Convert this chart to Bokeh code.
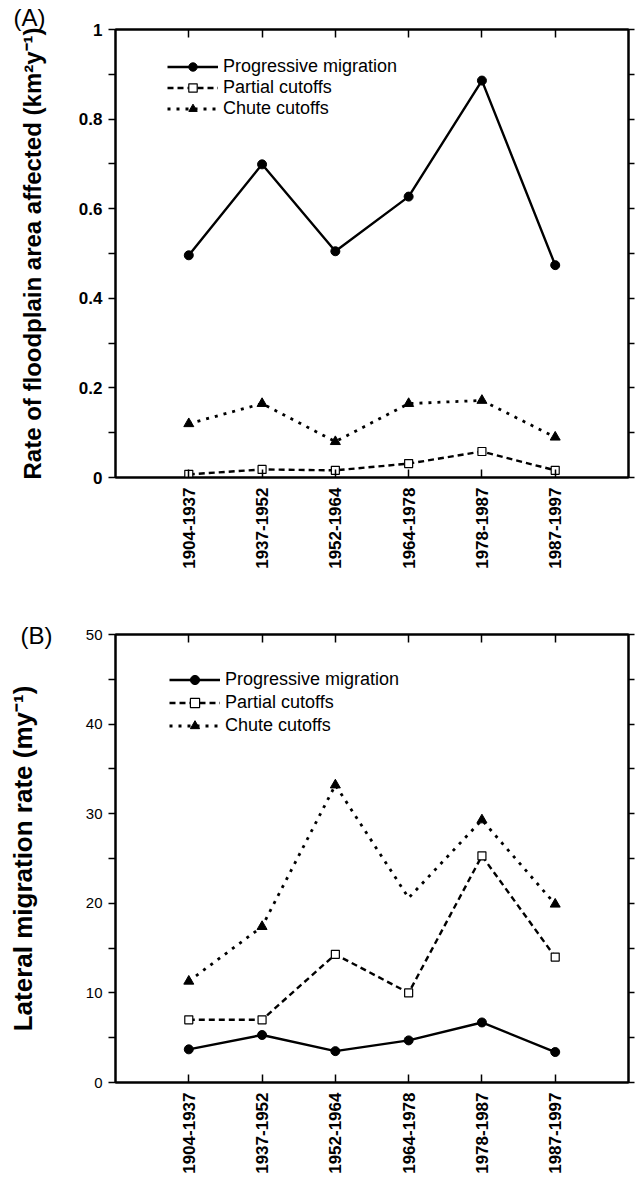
from bokeh.plotting import figure
from bokeh.models import (ColumnDataSource, FixedTicker, LinearAxis, Range1d, Legend,
                          LegendItem, CDSView, BooleanFilter)
from bokeh.layouts import column
from bokeh.embed import file_html
from bokeh.resources import INLINE

# ---------------- data ----------------
periods = ["1904-1937", "1937-1952", "1952-1964", "1964-1978", "1978-1987", "1987-1997"]
series_names = ["Progressive migration", "Partial cutoffs", "Chute cutoffs"]

# Panel A: rate of floodplain area affected (km2/y)
area_progressive = [0.496, 0.699, 0.505, 0.627, 0.886, 0.474]
area_partial = [0.007, 0.018, 0.016, 0.031, 0.058, 0.016]
area_chute = [0.120, 0.165, 0.080, 0.165, 0.172, 0.090]

# Panel B: lateral migration rate (m/y)
rate_progressive = [3.7, 5.3, 3.5, 4.7, 6.7, 3.4]
rate_partial = [7.0, 7.0, 14.3, 10.0, 25.3, 14.0]
rate_chute = [11.3, 17.4, 33.2, 20.6, 29.3, 19.9]
rate_chute_marker_shown = [True, True, True, False, True, True]

a_ticks = [0, 0.2, 0.4, 0.6, 0.8, 1.0]
a_tick_labels = ["0", "0.2", "0.4", "0.6", "0.8", "1"]
a_minor = [0.1, 0.3, 0.5, 0.7, 0.9]
b_ticks = [0, 10, 20, 30, 40, 50]
b_tick_labels = ["0", "10", "20", "30", "40", "50"]
b_minor = [5, 15, 25, 35, 45]

FONT = "Liberation Sans"


def make_panel(values, marker_masks, ymax, yticks, ylabels, yminor, ylabel,
               width, height, borders, ylabel_size, ylabel_standoff,
               ytick_size, ytick_style, legend_size,
               legend_loc, legend_row, legend_glyph_w, tag, tag_offset, tag_standoff):
    bl, br, bt, bb = borders
    xs = list(range(len(periods)))
    p = figure(width=width, height=height, output_backend="svg", toolbar_location=None,
               x_range=Range1d(-1, 6), y_range=Range1d(0, ymax),
               min_border_left=bl, min_border_right=br, min_border_top=bt,
               min_border_bottom=bb, title=tag)
    p.title.align = "left"
    p.title.offset = tag_offset
    p.title.standoff = tag_standoff
    p.title.text_font = FONT
    p.title.text_font_size = "24px"
    p.title.text_font_style = "normal"
    p.title.text_color = "black"

    p.background_fill_color = "white"
    p.border_fill_color = "white"
    p.outline_line_color = "black"
    p.outline_line_width = 2
    p.xgrid.visible = False
    p.ygrid.visible = False

    # bottom x axis
    xa = p.xaxis[0]
    xa.ticker = FixedTicker(ticks=xs)
    xa.major_label_overrides = {i: periods[i] for i in xs}
    xa.major_label_orientation = 3.14159265 / 2
    xa.major_label_text_font = FONT
    xa.major_label_text_font_style = "bold"
    xa.major_label_text_font_size = "17px"
    xa.major_label_text_color = "black"
    xa.major_label_standoff = 10
    xa.major_tick_in = 8
    xa.major_tick_out = 0
    xa.minor_tick_in = 0
    xa.minor_tick_out = 0
    xa.axis_line_width = 2
    xa.major_tick_line_width = 1.5

    # left y axis
    ya = p.yaxis[0]
    ya.ticker = FixedTicker(ticks=yticks, minor_ticks=yminor)
    ya.major_label_overrides = {t: l for t, l in zip(yticks, ylabels)}
    ya.major_label_text_font = FONT
    ya.major_label_text_font_style = ytick_style
    ya.major_label_text_font_size = ytick_size
    ya.major_label_text_color = "black"
    ya.major_label_standoff = 6
    ya.major_tick_in = 0
    ya.major_tick_out = 7
    ya.minor_tick_in = 0
    ya.minor_tick_out = 7
    ya.axis_line_width = 2
    ya.major_tick_line_width = 1.5
    ya.minor_tick_line_width = 1.5
    ya.axis_label = ylabel
    ya.axis_label_text_font = FONT
    ya.axis_label_text_font_style = "bold"
    ya.axis_label_text_font_size = ylabel_size
    ya.axis_label_text_color = "black"
    ya.axis_label_standoff = ylabel_standoff

    # top and right axes (ticks only)
    top = LinearAxis(ticker=FixedTicker(ticks=xs), major_tick_in=8, major_tick_out=0,
                     minor_tick_in=0, minor_tick_out=0, major_label_text_font_size="0px",
                     major_label_text_color=None, major_label_standoff=0,
                     axis_line_width=2, major_tick_line_width=1.5)
    p.add_layout(top, "above")
    right = LinearAxis(ticker=FixedTicker(ticks=yticks, minor_ticks=yminor),
                       major_tick_in=0, major_tick_out=6, minor_tick_in=0, minor_tick_out=6,
                       major_label_text_font_size="0px", major_label_text_color=None,
                       major_label_standoff=0, axis_line_width=2,
                       major_tick_line_width=1.5, minor_tick_line_width=1.5)
    p.add_layout(right, "right")

    styles = [
        dict(line_dash="solid", line_width=2.4, marker="circle", size=9,
             fill_color="black", m_line_width=1),
        dict(line_dash="6 4", line_width=2.4, marker="square", size=8,
             fill_color="white", m_line_width=1.2),
        dict(line_dash="3 6", line_width=2.8, marker="triangle", size=10,
             fill_color="black", m_line_width=1),
    ]
    items = []
    for name, vals, mask, st in zip(series_names, values, marker_masks, styles):
        src = ColumnDataSource(dict(x=xs, y=vals))
        lr = p.line("x", "y", source=src, line_color="black", line_width=st["line_width"],
                    line_dash=st["line_dash"])
        view = CDSView(filter=BooleanFilter(mask))
        sr = p.scatter("x", "y", source=src, view=view, marker=st["marker"], size=st["size"],
                       fill_color=st["fill_color"], line_color="black",
                       line_width=st["m_line_width"])
        items.append(LegendItem(label=name, renderers=[lr, sr]))

    legend = Legend(items=items, location=legend_loc, border_line_color=None,
                    background_fill_alpha=0, padding=0, margin=0, spacing=0,
                    glyph_width=legend_glyph_w, glyph_height=legend_row,
                    label_height=legend_row, label_standoff=5,
                    label_text_font=FONT, label_text_font_size=legend_size,
                    label_text_color="black")
    p.add_layout(legend, "center")
    return p


# Panel A: frame 115..632 x 29..477
pa = make_panel(
    [area_progressive, area_partial, area_chute],
    [[True] * 6, [True] * 6, [True] * 6],
    1.0, a_ticks, a_tick_labels, a_minor,
    "Rate of floodplain area affected (km\u00b2y\u207b\u00b9)",
    640, 600, (115, 8, 29, 123), "24px", 30,
    "17px", "bold", "18px",
    (52, 448 - 90), 21, 51, "(A)", -102, -2)

# Panel B: frame 107..628 x 634..1082 (fig top at 600)
pb = make_panel(
    [rate_progressive, rate_partial, rate_chute],
    [[True] * 6, [True] * 6, rate_chute_marker_shown],
    50, b_ticks, b_tick_labels, b_minor,
    "Lateral migration rate (my\u207b\u00b9)",
    640, 577, (107, 12, 34, 95), "26px", 45,
    "15px", "normal", "18px",
    (54, 448 - 103), 23, 51, "(B)", -95, -28)

col = column(pa, pb)
open("out.html", "w").write(file_html(col, INLINE))
